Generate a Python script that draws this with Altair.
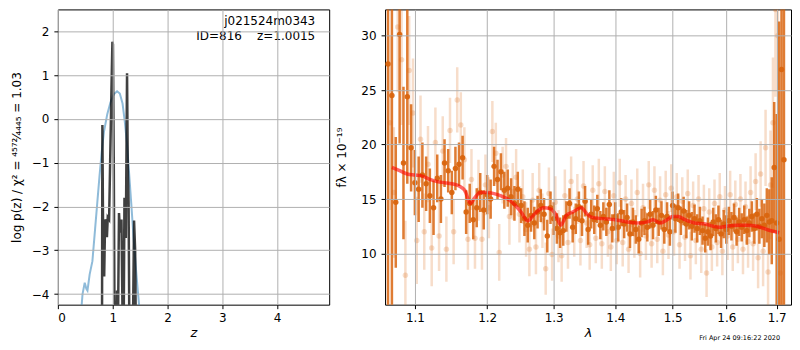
import altair as alt
import pandas as pd

# ---------------- left panel: log p(z) ----------------
z_chi = [0.78, 0.805, 0.812, 0.825, 0.845, 0.862, 0.88, 0.895, 0.91, 0.935, 0.975, 0.995, 1.005, 1.02,
         1.035, 1.06, 1.08, 1.095, 1.115, 1.135, 1.16, 1.18, 1.195, 1.215, 1.24, 1.262, 1.275, 1.29, 1.31,
         1.36, 1.39, 1.41, 1.43]
logp_chi = [-6.0, -5.0, -0.14, -2.6, -3.6, -2.3, -2.35, -2.7, -2.25, -2.3, 0.5, 1.76, 1.7, -1.0,
            -5.0, -6.0, -3.92, -5.0, -2.15, -2.6, -2.3, -4.5, -6.0, -1.8, -2.72, 1.04, -1.0, -1.9, -6.0,
            -6.0, -2.32, -3.0, -6.0]

z_pz = [0.40, 0.45, 0.49, 0.52, 0.54, 0.58, 0.63, 0.68, 0.72, 0.76, 0.80, 0.84, 0.90, 0.96, 1.02,
        1.08, 1.13, 1.18, 1.22, 1.26, 1.30, 1.34, 1.38, 1.42, 1.46, 1.50]
logp_pz = [-4.8, -4.0, -3.74, -3.88, -3.92, -3.55, -3.25, -2.5, -1.9, -1.3, -0.75, -0.30, 0.10, 0.38, 0.56,
           0.63, 0.58, 0.35, -0.05, -0.55, -1.25, -1.95, -2.7, -3.35, -3.95, -4.5]

# ---------------- right panel: spectrum ----------------
lam_dark = [1.065, 1.070, 1.075, 1.080, 1.085, 1.090, 1.095, 1.100, 1.105, 1.110, 1.115, 1.120, 1.125,
            1.130, 1.135, 1.140, 1.145, 1.150, 1.155, 1.160, 1.165, 1.170, 1.175, 1.180, 1.185, 1.190,
            1.195, 1.200, 1.205, 1.210, 1.215, 1.220, 1.225, 1.230, 1.235, 1.240, 1.245, 1.250, 1.255,
            1.260, 1.265, 1.270, 1.275, 1.280, 1.285, 1.290, 1.295, 1.300, 1.305, 1.310, 1.315, 1.320,
            1.325, 1.330, 1.335, 1.340, 1.345, 1.350, 1.355, 1.360, 1.365, 1.370, 1.375, 1.380, 1.385,
            1.390, 1.395, 1.400, 1.405, 1.410, 1.415, 1.420, 1.425, 1.430, 1.435, 1.440, 1.445, 1.450,
            1.455, 1.460, 1.465, 1.470, 1.475, 1.480, 1.485, 1.490, 1.495, 1.500, 1.505, 1.510, 1.515,
            1.520, 1.525, 1.530, 1.535, 1.540, 1.545, 1.550, 1.555, 1.560, 1.565, 1.570, 1.575, 1.580,
            1.585, 1.590, 1.595, 1.600, 1.605, 1.610, 1.615, 1.620, 1.625, 1.630, 1.635, 1.640, 1.645,
            1.650, 1.655, 1.660, 1.665, 1.670, 1.675, 1.680, 1.685, 1.690, 1.695, 1.700, 1.705, 1.710,
            1.715]
flux_dark = [27.4, 24.5, 14.7, 30.1, 18.3, 24.4, 19.7, 16.5, 15.9, 17.2, 16.4, 15.3, 14.2,
             16.9, 15.0, 18.3, 17.6, 15.6, 17.8, 18.2, 18.8, 13.8, 14.6, 13.1, 14.2, 15.6,
             14.0, 15.4, 15.0, 18.0, 16.8, 17.5, 15.8, 16.0, 15.2, 14.6, 15.9, 14.4, 13.2,
             12.6, 13.5, 12.8, 13.8, 14.4, 13.6, 11.6, 14.2, 13.2, 12.3, 11.9, 12.1, 13.4,
             14.6, 12.4, 13.2, 14.3, 13.0, 14.8, 12.2, 13.6, 13.1, 14.1, 12.6, 13.4, 12.9,
             14.5, 12.3, 13.4, 12.4, 13.8, 12.7, 13.3, 11.8, 12.9, 12.2, 11.3, 12.8, 13.0,
             12.4, 13.6, 12.6, 14.0, 12.9, 13.5, 12.2, 13.4, 12.0, 14.4, 13.2, 14.2, 13.0,
             13.9, 12.7, 13.5, 12.5, 13.2, 12.3, 13.0, 12.1, 11.4, 12.0, 11.6, 12.9, 12.3,
             13.1, 11.8, 12.7, 12.2, 13.0, 12.5, 13.3, 12.0, 12.9, 12.4, 13.1, 12.1, 12.8,
             13.4, 12.3, 13.6, 12.5, 13.2, 12.6, 13.5, 12.9, 13.0, 17.9, 12.8, 11.3, 26.9,
             18.6]
err_dark = [30, 20, 6, 10, 7, 8, 4, 3, 3, 3, 2.5, 2.5, 2.5,
            2.2, 2.2, 2.2, 2.0, 2.0, 2.0, 2.0, 2.0, 2.0, 1.8, 1.8, 1.8, 1.8,
            1.8, 1.8, 1.8, 1.8, 1.8, 1.7, 1.7, 1.7, 1.7, 1.6, 1.6, 1.6, 1.6,
            1.6, 1.5, 1.5, 1.5, 1.5, 1.5, 1.5, 1.5, 1.5, 1.4, 1.4, 1.4, 1.4,
            1.4, 1.4, 1.4, 1.4, 1.4, 1.4, 1.4, 1.3, 1.3, 1.3, 1.3, 1.3, 1.3,
            1.3, 1.3, 1.3, 1.3, 1.3, 1.3, 1.3, 1.3, 1.3, 1.3, 1.3, 1.3, 1.3,
            1.3, 1.3, 1.3, 1.3, 1.3, 1.3, 1.3, 1.3, 1.3, 1.3, 1.3, 1.3, 1.3,
            1.3, 1.3, 1.3, 1.3, 1.3, 1.3, 1.3, 1.3, 1.3, 1.3, 1.3, 1.3, 1.3,
            1.3, 1.3, 1.3, 1.3, 1.3, 1.3, 1.3, 1.3, 1.3, 1.3, 1.3, 1.3, 1.3,
            1.4, 1.4, 1.5, 1.6, 1.8, 2.0, 2.5, 3.0, 4.0, 6.0, 10.0, 20.0, 25.0,
            30.0]

lam_light = [1.0675, 1.0725, 1.0775, 1.0825, 1.0875, 1.0925, 1.0975, 1.1025, 1.1075, 1.1125, 1.1175,
             1.1225, 1.1275, 1.1325, 1.1375, 1.1425, 1.1475, 1.1525, 1.1575, 1.1625, 1.1675, 1.1725,
             1.1775, 1.1825, 1.1875, 1.1925, 1.1975, 1.2025, 1.2075, 1.2125, 1.2175, 1.2225, 1.2275,
             1.2325, 1.2375, 1.2425, 1.2475, 1.2525, 1.2575, 1.2625, 1.2675, 1.2725, 1.2775, 1.2825,
             1.2875, 1.2925, 1.2975, 1.3025, 1.3075, 1.3125, 1.3175, 1.3225, 1.3275, 1.3325, 1.3375,
             1.3425, 1.3475, 1.3525, 1.3575, 1.3625, 1.3675, 1.3725, 1.3775, 1.3825, 1.3875, 1.3925,
             1.3975, 1.4025, 1.4075, 1.4125, 1.4175, 1.4225, 1.4275, 1.4325, 1.4375, 1.4425, 1.4475,
             1.4525, 1.4575, 1.4625, 1.4675, 1.4725, 1.4775, 1.4825, 1.4875, 1.4925, 1.4975, 1.5025,
             1.5075, 1.5125, 1.5175, 1.5225, 1.5275, 1.5325, 1.5375, 1.5425, 1.5475, 1.5525, 1.5575,
             1.5625, 1.5675, 1.5725, 1.5775, 1.5825, 1.5875, 1.5925, 1.5975, 1.6025, 1.6075, 1.6125,
             1.6175, 1.6225, 1.6275, 1.6325, 1.6375, 1.6425, 1.6475, 1.6525, 1.6575, 1.6625, 1.6675,
             1.6725, 1.6775, 1.6825, 1.6875, 1.6925, 1.6975, 1.7025, 1.7075]
flux_light = [22.0, 15.6, 30.8, 27.8, 8.0, 26.8, 22.9, 11.2, 20.5, 12.0, 18.2,
              10.5, 20.2, 11.6, 19.4, 10.4, 21.3, 12.0, 24.1, 21.8, 18.6, 11.3,
              16.8, 11.4, 15.8, 11.3, 16.3, 14.2, 21.2, 19.2, 10.1, 17.2, 18.0,
              13.4, 15.7, 17.0, 13.6, 15.2, 12.2, 10.4, 14.9, 10.6, 15.8, 13.0,
              8.6, 15.5, 9.9, 14.7, 11.6, 9.8, 15.3, 11.0, 16.6, 12.0, 15.0,
              11.2, 16.2, 12.8, 10.8, 15.8, 11.4, 16.4, 10.9, 15.7, 12.0, 10.6,
              15.3, 11.2, 16.5, 11.0, 15.0, 10.4, 14.6, 11.8, 15.6, 10.0, 14.2,
              11.6, 16.3, 10.9, 15.8, 11.3, 14.9, 10.2, 15.4, 11.7, 16.0, 12.0,
              15.2, 10.8, 14.8, 11.5, 15.5, 9.8, 14.4, 11.2, 15.0, 10.4, 14.1,
              8.2, 13.8, 10.6, 14.6, 11.0, 15.2, 10.2, 14.0, 11.6, 15.4, 10.6,
              14.5, 11.3, 15.0, 10.4, 14.3, 11.1, 15.6, 10.9, 16.6, 9.6, 17.3,
              10.2, 19.7, 8.3, 16.3, 22.0, 32.4, 30.0, 8.2]
err_light = [8, 6, 6, 6, 5, 5, 5, 4, 4, 3.5, 3.5,
             3.5, 3.2, 3.2, 3.2, 3.0, 3.0, 3.0, 3.0, 3.0, 3.0, 2.8,
             2.8, 2.8, 2.8, 2.8, 2.8, 2.8, 2.8, 2.8, 2.6, 2.6, 2.6,
             2.6, 2.6, 2.6, 2.6, 2.5, 2.5, 2.5, 2.5, 2.5, 2.5, 2.5,
             2.4, 2.4, 2.4, 2.4, 2.4, 2.4, 2.4, 2.4, 2.3, 2.3, 2.3,
             2.3, 2.3, 2.3, 2.3, 2.3, 2.3, 2.3, 2.3, 2.3, 2.3, 2.2,
             2.2, 2.2, 2.2, 2.2, 2.2, 2.2, 2.2, 2.2, 2.2, 2.2, 2.2,
             2.2, 2.2, 2.2, 2.2, 2.2, 2.2, 2.2, 2.2, 2.2, 2.2, 2.2,
             2.2, 2.2, 2.2, 2.2, 2.2, 2.2, 2.2, 2.2, 2.2, 2.2, 2.2,
             2.2, 2.2, 2.2, 2.2, 2.2, 2.2, 2.2, 2.2, 2.2, 2.2, 2.2,
             2.2, 2.2, 2.3, 2.3, 2.3, 2.4, 2.4, 2.5, 2.6, 2.8, 3.0,
             3.2, 3.5, 4.0, 5.0, 6.0, 8.0, 10.0, 12.0]

lam_model = [1.070, 1.080, 1.090, 1.100, 1.110, 1.120, 1.130, 1.140, 1.150, 1.160, 1.168, 1.176, 1.182,
             1.190, 1.200, 1.210, 1.220, 1.230, 1.240, 1.250, 1.260, 1.270, 1.284, 1.295, 1.303, 1.311,
             1.320, 1.330, 1.344, 1.352, 1.362, 1.380, 1.400, 1.420, 1.441, 1.455, 1.465, 1.478, 1.490,
             1.500, 1.510, 1.522, 1.540, 1.560, 1.575, 1.587, 1.600, 1.620, 1.640, 1.660, 1.680, 1.705]
flux_model = [17.9, 17.6, 17.3, 17.2, 17.1, 16.8, 16.6, 16.5, 16.4, 16.2, 15.8, 14.6, 15.1,
              15.6, 15.6, 15.5, 15.3, 15.0, 14.5, 13.8, 13.0, 13.6, 14.2, 14.1, 13.6, 12.6,
              13.5, 13.8, 14.2, 13.7, 13.3, 13.2, 13.1, 12.9, 12.8, 12.9, 13.1, 12.8, 13.1,
              13.4, 13.4, 13.1, 12.8, 12.7, 12.5, 12.4, 12.5, 12.6, 12.6, 12.5, 12.2, 11.9]

ORANGE = "#d9650f"
FONT = "DejaVu Sans"

# ---------------- build tables ----------------
chi_df = pd.DataFrame({"z": z_chi, "logp": logp_chi})
pz_df = pd.DataFrame({"z": z_pz, "logp": logp_pz})
dark_df = pd.DataFrame({"lam": lam_dark, "f": flux_dark, "e": err_dark})
dark_df["lo"] = dark_df["f"] - dark_df["e"]
dark_df["hi"] = dark_df["f"] + dark_df["e"]
light_df = pd.DataFrame({"lam": lam_light, "f": flux_light, "e": err_light})
light_df["lo"] = light_df["f"] - light_df["e"]
light_df["hi"] = light_df["f"] + light_df["e"]
model_df = pd.DataFrame({"lam": lam_model, "f": flux_model})

W_L, W_R, H = 272, 407, 296

axis_common = dict(
    grid=True, gridColor="#b0b0b0", gridWidth=1, domain=False,
    tickColor="black", tickSize=4, labelFont=FONT, labelFontSize=12,
    labelColor="black", titleFont=FONT, titleColor="black",
    titleFontWeight="normal", zindex=1,
)

# ---- left ----
zx = alt.Scale(domain=[0, 4.95], nice=False, zero=False)
zy = alt.Scale(domain=[-4.243, 2.5], nice=False, zero=False)
x_left = alt.X("z:Q", scale=zx, axis=alt.Axis(values=[0, 1, 2, 3, 4], format="d", title="z",
                                              titleFontStyle="italic", titleFontSize=13,
                                              labelPadding=4, titlePadding=3, **axis_common))
y_left = alt.Y("logp:Q", scale=zy, axis=alt.Axis(values=[-4, -3, -2, -1, 0, 1, 2], format="d",
                                                 title="log p(z) / χ² = ⁴⁵⁷²⁄₄₄₄₅ = 1.03",
                                                 titleFontSize=12, labelPadding=5, titlePadding=8,
                                                 **axis_common))

pz_line = alt.Chart(pz_df).mark_line(color="#1f77b4", opacity=0.5, strokeWidth=2, clip=True).encode(
    x=x_left, y=y_left)
chi_line = alt.Chart(chi_df).mark_line(color="black", opacity=0.75, strokeWidth=2.5, clip=True).encode(
    x=alt.X("z:Q", scale=zx), y=alt.Y("logp:Q", scale=zy))

ann_df = pd.DataFrame({"a": ["j021524m0343"], "b": ["ID=816\u00a0\u00a0\u00a0\u00a0z=1.0015"]})
ann1 = alt.Chart(ann_df).mark_text(align="right", baseline="alphabetic", font=FONT, fontSize=12,
                                   color="black").encode(x=alt.value(258), y=alt.value(16), text="a:N")
ann2 = alt.Chart(ann_df).mark_text(align="right", baseline="alphabetic", font=FONT, fontSize=12,
                                   color="black").encode(x=alt.value(258), y=alt.value(31), text="b:N")

left = alt.layer(pz_line, chi_line, ann1, ann2).properties(width=W_L, height=H)

# ---- right ----
lx = alt.Scale(type="log", domain=[1.0612, 1.7296], nice=False, zero=False)
ly = alt.Scale(domain=[5.30, 32.41], nice=False, zero=False)
x_right = alt.X("lam:Q", scale=lx, axis=alt.Axis(values=[1.1, 1.2, 1.3, 1.4, 1.5, 1.6, 1.7], format=".1f",
                                                 title="λ", titleFontStyle="italic", titleFontSize=13,
                                                 labelPadding=4, titlePadding=3, **axis_common))
y_right = alt.Y("f:Q", scale=ly, axis=alt.Axis(values=[10, 15, 20, 25, 30], format="d",
                                               title="fλ × 10⁻¹⁹", titleFontSize=12, labelPadding=5,
                                               titlePadding=12, **axis_common))

light_err = alt.Chart(light_df).mark_rule(color=ORANGE, opacity=0.22, strokeWidth=2.5, clip=True).encode(
    x=x_right, y=alt.Y("lo:Q", scale=ly), y2="hi:Q")
light_pts = alt.Chart(light_df).mark_circle(color=ORANGE, opacity=0.22, size=30, clip=True).encode(
    x=alt.X("lam:Q", scale=lx), y=y_right)
dark_err = alt.Chart(dark_df).mark_rule(color=ORANGE, opacity=0.85, strokeWidth=2.5, clip=True).encode(
    x=alt.X("lam:Q", scale=lx), y=alt.Y("lo:Q", scale=ly), y2="hi:Q")
dark_pts = alt.Chart(dark_df).mark_circle(color=ORANGE, opacity=0.95, size=30, clip=True).encode(
    x=alt.X("lam:Q", scale=lx), y=alt.Y("f:Q", scale=ly))
model = alt.Chart(model_df).mark_line(color="red", opacity=0.6, strokeWidth=3.5, clip=True,
                                      interpolate="monotone").encode(
    x=alt.X("lam:Q", scale=lx), y=alt.Y("f:Q", scale=ly))

stamp_df = pd.DataFrame({"s": ["Fri Apr 24 09:16:22 2020"]})
stamp = alt.Chart(stamp_df).mark_text(align="right", baseline="alphabetic", font=FONT, fontSize=6.5,
                                      color="black").encode(x=alt.value(396), y=alt.value(331), text="s:N")

right = alt.layer(light_err, light_pts, dark_err, dark_pts, model, stamp).properties(width=W_R, height=H)

chart = alt.hconcat(left, right, spacing=5).properties(
    padding={"left": 1, "top": 0, "right": 0, "bottom": 0}
).configure_view(stroke="black", strokeWidth=1)

chart.save("out.html", embed_options={"renderer": "svg", "actions": False})
